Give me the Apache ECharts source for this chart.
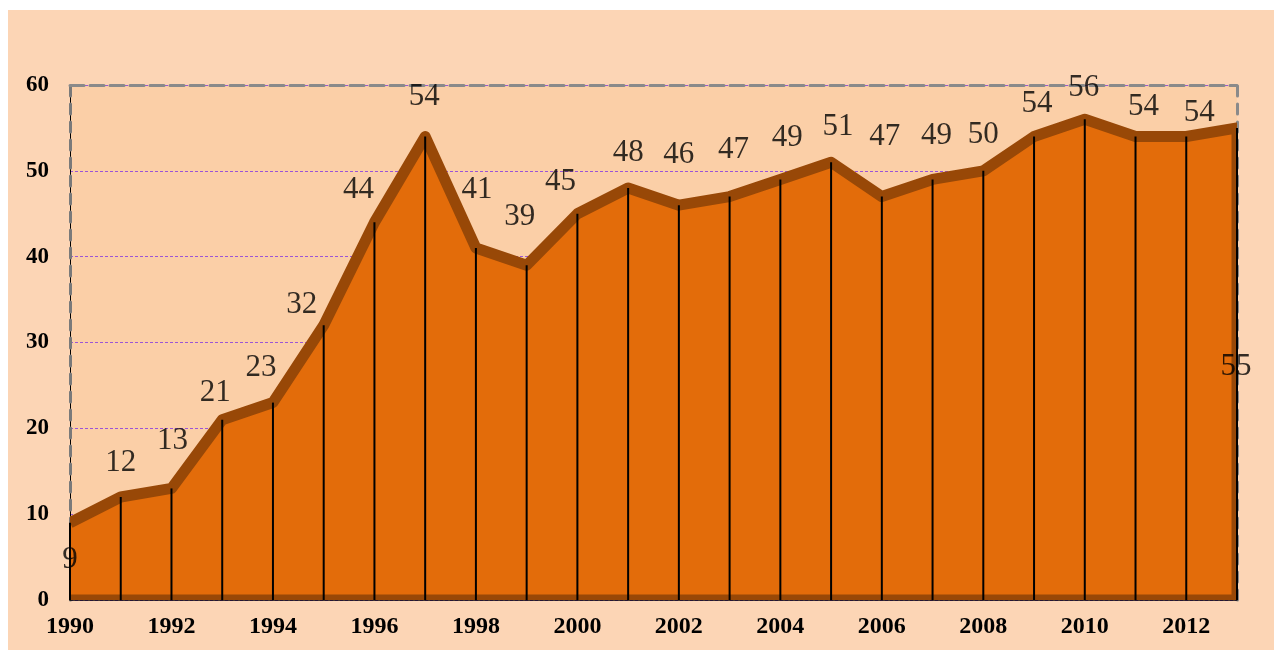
<!DOCTYPE html>
<html>
<head>
<meta charset="utf-8">
<script src="https://cdn.jsdelivr.net/npm/echarts@6/dist/echarts.min.js"></script>
<style>
  html, body { margin: 0; padding: 0; background: #ffffff; width: 1276px; height: 650px; overflow: hidden; }
  #bg { position: absolute; left: 8px; top: 10px; right: 2px; bottom: 0px; background: #FCD5B5; }
  #chart { position: absolute; left: 0; top: 0; width: 1276px; height: 650px; }
</style>
</head>
<body>
<div id="bg"></div>
<div id="chart"></div>
<script>
// ---- data ----
const years = ['1990','1991','1992','1993','1994','1995','1996','1997','1998','1999','2000','2001',
               '2002','2003','2004','2005','2006','2007','2008','2009','2010','2011','2012','2013'];
const values = [9, 12, 13, 21, 23, 32, 44, 54, 41, 39, 45, 48, 46, 47, 49, 51, 47, 49, 50, 54, 56, 54, 54, 55];
const yTicks = [0, 10, 20, 30, 40, 50, 60];

// ---- layout of value labels (pixel offsets from each point) ----
const labelOffsets = [
  [0, 37], [0, -34], [1, -48], [-7, -27], [-12, -35], [-22, -20], [-16, -32], [-1, -40],
  [1, -58], [-7, -48], [-17, -32], [0, -35], [0, -50], [4, -47], [7, -42], [7, -35],
  [3, -60], [4, -44], [0, -36], [3, -33], [-1, -31], [8, -30], [13, -24], [-1, 239]
];

const chart = echarts.init(document.getElementById('chart'), null, { renderer: 'canvas' });

const serif = '"Liberation Serif", "Times New Roman", serif';
const fillColor = '#E36C0A';
const strokeColor = '#984807';

const option = {
  backgroundColor: 'transparent',
  animation: false,
  grid: {
    left: 70, right: 39, top: 85, bottom: 50,
    show: true, backgroundColor: '#FBCFA7', borderWidth: 0
  },
  xAxis: [
    {
      type: 'category', data: years, boundaryGap: false, position: 'bottom',
      axisLine: { show: true, onZero: false, lineStyle: { color: '#000', width: 1.5 } },
      axisTick: { show: false },
      splitLine: { show: false },
      axisLabel: { interval: 1, margin: 15, color: '#000', fontFamily: serif, fontWeight: 'bold', fontSize: 24 }
    },
    {
      type: 'category', data: years, boundaryGap: false, position: 'top',
      axisLine: { show: true, onZero: false, lineStyle: { color: '#8a8a8a', width: 3, type: [14, 6] } },
      axisTick: { show: false }, axisLabel: { show: false }, splitLine: { show: false }
    }
  ],
  yAxis: [
    {
      type: 'value', min: yTicks[0], max: yTicks[yTicks.length - 1], interval: 10, position: 'left',
      axisLine: { show: true, onZero: false, lineStyle: { color: '#000', width: 1 } },
      axisTick: { show: false },
      splitLine: { show: true, lineStyle: { color: '#9B55D6', width: 1, type: [3, 2] } },
      axisLabel: { margin: 21, color: '#000', fontFamily: serif, fontWeight: 'bold', fontSize: 23 }
    },
    {
      type: 'value', min: 0, max: 60, interval: 10, position: 'right',
      axisLine: { show: true, onZero: false, lineStyle: { color: '#8a8a8a', width: 3, type: [10, 8] } },
      axisTick: { show: false }, axisLabel: { show: false }, splitLine: { show: false }
    },
    {
      type: 'value', min: 0, max: 60, interval: 10, position: 'left', offset: 0,
      axisLine: { show: true, onZero: false, lineStyle: { color: '#7a7a7a', width: 3, type: [10, 8] } },
      axisTick: { show: false }, axisLabel: { show: false }, splitLine: { show: false }
    }
  ],
  series: [
    {
      type: 'custom',
      z: 2,
      clip: true,
      data: values.map((v, i) => [i, v]),
      renderItem: function (params, api) {
        if (params.dataIndex !== 0) return null;
        const pts = values.map((v, i) => api.coord([i, v]));
        const last = values.length - 1;
        const b0 = api.coord([0, 0]);
        const bN = api.coord([last, 0]);
        const cs = params.coordSys;
        return {
          type: 'group',
          clipPath: { type: 'rect', shape: { x: cs.x, y: cs.y, width: cs.width, height: cs.height } },
          children: [
            {
              type: 'polygon',
              shape: { points: [b0].concat(pts).concat([bN]) },
              style: { fill: fillColor, stroke: null }
            },
            {
              type: 'polyline',
              shape: { points: pts.concat([bN, b0]) },
              style: { fill: null, stroke: strokeColor, lineWidth: 11, lineJoin: 'round' }
            }
          ]
        };
      }
    },
    {
      type: 'bar',
      z: 3,
      data: values,
      barWidth: 2,
      itemStyle: { color: '#000' },
      silent: true
    },
    {
      type: 'scatter',
      z: 5,
      symbolSize: 1,
      itemStyle: { color: 'rgba(0,0,0,0)' },
      data: values.map((v, i) => ({
        value: [i, v],
        label: { offset: labelOffsets[i] }
      })),
      label: {
        show: true, position: 'inside', color: '#000',
        fontFamily: serif, fontSize: 31,
        formatter: p => String(p.value[1])
      }
    }
  ]
};

chart.setOption(option);
</script>
</body>
</html>
